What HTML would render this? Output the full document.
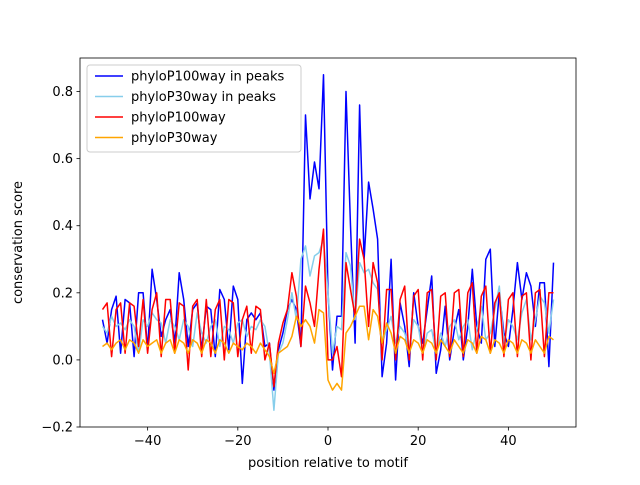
<!DOCTYPE html>
<html><head><meta charset="utf-8"><style>
body{margin:0;background:#fff}
svg text{font-family:"DejaVu Sans","Liberation Sans",sans-serif;fill:#000}
</style></head><body>
<svg id="chart" width="640" height="480" xmlns="http://www.w3.org/2000/svg">
<rect width="640" height="480" fill="#fff"/>
<g id="series"></g>
<rect x="80" y="58" width="496" height="369" fill="none" stroke="#000" stroke-width="0.8"/>
<g id="xt"></g>
<g id="yt"></g>
<text x="328" y="467" font-size="13" text-anchor="middle">position relative to motif</text>
<text transform="translate(22,242.5) rotate(-90)" font-size="13" text-anchor="middle">conservation score</text>
<g id="legend"></g>
</svg>
<script>
const xTicks=[-40,-20,0,20,40];
const yTicks=[-0.2,0.0,0.2,0.4,0.6,0.8];
const seriesNames=["phyloP100way in peaks","phyloP30way in peaks","phyloP100way","phyloP30way"];
const seriesColors=["#0000ff","#87ceeb","#ff0000","#ffa500"];
const blue=[.12,.05,.15,.19,.02,.18,.17,.01,.20,.20,.03,.27,.18,.07,.12,.15,.05,.26,.18,.04,.15,.17,.03,.16,.15,.01,.21,.18,.03,.22,.18,-.07,.12,.14,.12,.14,.04,.05,-.09,.03,.08,.15,.18,.15,.04,.73,.48,.59,.51,.85,.20,-.03,.13,.13,.80,.40,.05,.76,.30,.53,.45,.36,-.05,.05,.30,-.06,.17,.10,-.02,.20,.10,.05,.15,.25,-.04,.03,.16,.00,.09,.15,.00,.10,.27,.10,.05,.30,.33,.04,.20,.08,.04,.15,.29,.18,.26,.22,.10,.23,.23,-.02,.29,.25];
const lightblue=[.10,.08,.13,.10,.11,.09,.12,.10,.02,.12,.10,.14,.12,.11,.05,.12,.10,.06,.12,.10,.04,.14,.08,.05,.10,.12,.04,.10,.09,.05,.11,.12,.07,.10,.09,.12,.10,.02,-.15,.02,.05,.12,.20,.12,.30,.34,.25,.31,.32,.36,.20,.02,.10,.09,.32,.28,.12,.29,.26,.27,.23,.21,.05,.09,.13,.05,.10,.08,.03,.12,.10,.02,.08,.09,.02,.08,.04,.10,.12,.06,.10,.12,.03,.09,.16,.06,.08,.15,.22,.05,.12,.10,.06,.14,.18,.06,.12,.19,.17,.08,.18,.08];
const red=[.15,.17,.01,.15,.17,.02,.17,.16,.04,.18,.02,.15,.20,.01,.18,.18,.02,.17,.16,-.03,.16,.18,.01,.18,.01,.15,.18,.00,.18,.17,.01,.12,.16,.02,.16,.15,.00,.05,-.08,.05,.11,.15,.26,.19,.04,.22,.17,.10,.27,.39,.00,.00,.04,-.05,.29,.21,.13,.36,.30,.10,.29,.23,.00,.21,.21,.00,.18,.22,.00,.19,.21,.00,.20,.21,.00,.19,.20,.01,.20,.21,.01,.20,.23,.02,.19,.22,.02,.17,.20,.01,.18,.20,.01,.19,.20,.00,.20,.21,.01,.20,.20];
const orange=[.04,.05,.03,.05,.06,.03,.06,.05,.02,.06,.04,.05,.06,.02,.05,.06,.02,.06,.05,.02,.06,.05,.02,.06,.05,.02,.06,.05,.02,.05,.04,.03,.05,.04,.02,.05,.03,.01,-.04,.02,.03,.04,.07,.13,.10,.12,.10,.05,.15,.14,-.06,-.09,-.07,-.09,.08,.10,.13,.16,.16,.06,.15,.13,.05,.11,.08,.02,.07,.06,.02,.06,.05,.02,.06,.05,.02,.06,.04,.02,.06,.04,.02,.06,.05,.02,.07,.06,.02,.06,.05,.02,.06,.05,.02,.06,.05,.02,.06,.04,.02,.07,.06];
const xPos=[];for(let i=-50;i<=50;i++)xPos.push(i);
function sx(v){return 80+(v+55)/110*496;}
function sy(v){return 427-(v+0.2)/1.1*369;}
const NS="http://www.w3.org/2000/svg";
function mk(t,a,p){const e=document.createElementNS(NS,t);for(const k in a)e.setAttribute(k,a[k]);p.appendChild(e);return e;}
const g=document.getElementById('series');
[blue,lightblue,red,orange].forEach((arr,si)=>{
 const d=arr.map((v,i)=>(i?'L':'M')+sx(xPos[i]).toFixed(1)+','+sy(v).toFixed(1)).join('');
 const p=mk('path',{d:d,fill:'none',stroke:seriesColors[si],'stroke-width':1.5,'stroke-linejoin':'round'},g);
 
 
});
const xt=document.getElementById('xt');
xTicks.forEach(t=>{const x=sx(t);
 const l=mk('line',{x1:x,x2:x,y1:427,y2:430.5,stroke:'#000','stroke-width':0.8},xt);
 
 
 const tx=mk('text',{x:x,y:445,'font-size':13,'text-anchor':'middle'},xt);tx.textContent=(t<0?'\u2212'+(-t):t);
 
 
});
const yt=document.getElementById('yt');
yTicks.forEach(t=>{const y=sy(t);
 const l=mk('line',{x1:76.5,x2:80,y1:y,y2:y,stroke:'#000','stroke-width':0.8},yt);
 
 
 const tx=mk('text',{x:73,y:y+4.5,'font-size':13,'text-anchor':'end'},yt);tx.textContent=(t<0?'\u2212'+(-t).toFixed(1):t.toFixed(1));
 
 
});
const lg=document.getElementById('legend');
const box=mk('rect',{x:87,y:65,width:214,height:87,rx:3,fill:'#fff','fill-opacity':0.8,stroke:'#ccc','stroke-width':1},lg);


seriesNames.forEach((n,i)=>{const y=76+i*20.5;
 const l=mk('line',{x1:95,x2:123,y1:y,y2:y,stroke:seriesColors[i],'stroke-width':1.5},lg);
 
 
 const t=mk('text',{x:131,y:y+4.5,'font-size':13},lg);t.textContent=n;
 
 
});
</script>
</body></html>
